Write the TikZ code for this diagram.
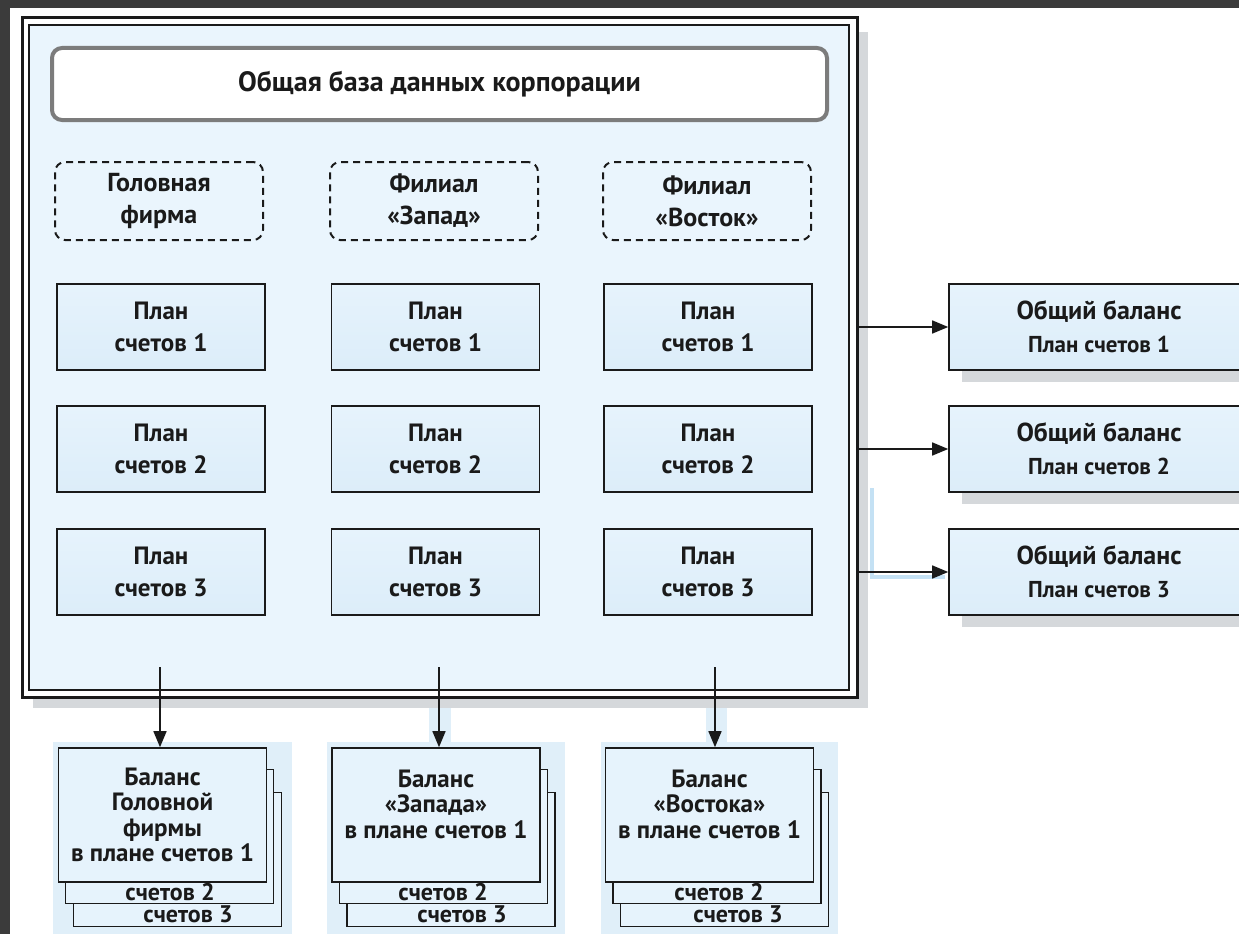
\documentclass[tikz,border=0pt]{standalone}
\usepackage{fontspec}
\setmainfont{PT Sans}
\usetikzlibrary{arrows.meta}
\definecolor{band}{HTML}{3B3B3B}
\definecolor{framefill}{HTML}{EAF5FD}
\definecolor{boxfill}{HTML}{DCEDF9}
\definecolor{boxtop}{HTML}{E6F3FC}
\definecolor{shadowgray}{HTML}{D5D8DB}
\definecolor{paleblue}{HTML}{E0EFF9}
\definecolor{lineblue}{HTML}{C4E1F4}
\definecolor{titlegray}{HTML}{7C7C7C}
\definecolor{ink}{HTML}{1A1A1A}
\begin{document}
\begin{tikzpicture}[x=1pt,y=-1pt,
  every node/.style={text=ink},
  planbox/.style={draw=ink, line width=1.6pt, top color=boxtop, bottom color=boxfill,
    minimum width=208pt, minimum height=86pt, inner sep=0pt, align=center,
    font=\bfseries\fontsize{25}{32}\selectfont},
  firmbox/.style={draw=ink, line width=2pt, dash pattern=on 7pt off 5pt, rounded corners=10pt,
    minimum width=208pt, minimum height=78pt, inner sep=0pt, align=center,
    font=\bfseries\fontsize{26}{32}\selectfont},
  sumbox/.style={draw=ink, line width=1.6pt, top color=boxtop, bottom color=boxfill,
    minimum width=300pt, minimum height=86pt, inner sep=0pt},
  sumtext/.style={align=center, font=\bfseries\fontsize{26}{33}\selectfont},
  sheet/.style={draw=ink, line width=1.6pt, fill=boxtop, minimum width=208pt,
    minimum height=134pt, inner sep=0pt},
  sheettext/.style={align=center, font=\bfseries\fontsize{25}{25.5}\selectfont},
  layertext/.style={anchor=base, font=\bfseries\fontsize{24}{25}\selectfont},
  shadowbox/.style={fill=shadowgray, draw=none, inner sep=0pt},
  arr/.style={draw=ink, line width=1.5pt, -{Triangle[length=16pt,width=13pt]}}
]
\useasboundingbox (0,0) rectangle (1239,934);
\clip (0,0) rectangle (1239,934);
% background
\fill[white] (0,0) rectangle (1239,934);
\fill[band] (0,0) rectangle (1239,8);
\fill[band] (0,0) rectangle (10,934);

% frame shadow and frame
\fill[shadowgray] (33,32) rectangle (868,708);
\node[draw=ink, line width=3pt, fill=white, minimum width=835pt, minimum height=679pt,
  inner sep=0pt] (frame) at (439.5,357.5) {};
\node[draw=ink, line width=2.5pt, fill=framefill, minimum width=820pt, minimum height=665pt,
  inner sep=0pt] (inner) at (439,357.5) {};

% title
\node[draw=titlegray, line width=4pt, fill=white, rounded corners=10pt,
  minimum width=775pt, minimum height=72pt, inner sep=0pt,
  font=\bfseries\fontsize{28}{30}\selectfont] (db) at (439.5,84) {Общая база данных корпорации};

% firms
\node[firmbox] (f1) at (159,201) {Головная\\фирма};
\node[firmbox] (f2) at (434,201) {Филиал\\«Запад»};
\node[firmbox] (f3) at (707,201) {Филиал\\«Восток»};

% plans
\foreach \c/\x in {1/161,2/435.5,3/708}{
  \node[planbox] (p\c1) at (\x,327) {План\\счетов 1};
  \node[planbox] (p\c2) at (\x,449) {План\\счетов 2};
  \node[planbox] (p\c3) at (\x,572) {План\\счетов 3};
}

% pale blue artefact line
\draw[lineblue, line width=4pt] (872,488) -- (872,577) -- (945,577);

% summary boxes
\foreach \r/\y in {1/327,2/449,3/572}{
  \node[shadowbox, minimum width=300pt, minimum height=86pt] at (1112,\y+12) {};
  \node[sumbox] (s\r) at (1099,\y) {};
  \node[sumtext] at (1099,\y) {Общий баланс\\{\fontsize{23}{33}\selectfont План счетов \r}};
  \draw[arr] (frame.east |- s\r.west) -- (s\r.west);
}

% bottom stacks: pale blue backing
\fill[paleblue] (53,742) rectangle (292,934);
\fill[paleblue] (327,742) rectangle (565,934);
\fill[paleblue] (601,742) rectangle (838,934);
\fill[paleblue] (429,708) rectangle (451,742);
\fill[paleblue] (706,708) rectangle (727,742);

% stack 1
\node[sheet] (c1) at (177.5,859.5) {};
\node[sheet] (b1) at (169.5,836.5) {};
\node[sheet] (a1) at (162.5,815) {};
\node[sheettext] at (a1) {Баланс\\Головной\\фирмы\\в плане счетов 1};
\node[layertext] at (170,900) {счетов 2};
\node[layertext] at (188,922) {счетов 3};
% stack 2
\node[sheet] (c2) at (451,859.5) {};
\node[sheet] (b2) at (443.5,836.5) {};
\node[sheet] (a2) at (436,815) {};
\node[sheettext, yshift=11pt] at (a2) {Баланс\\«Запада»\\в плане счетов 1};
\node[layertext] at (443,900) {счетов 2};
\node[layertext] at (462,922) {счетов 3};
% stack 3
\node[sheet] (c3) at (724.5,859.5) {};
\node[sheet] (b3) at (717,836.5) {};
\node[sheet] (a3) at (709.5,815) {};
\node[sheettext, yshift=11pt] at (a3) {Баланс\\«Востока»\\в плане счетов 1};
\node[layertext] at (719,900) {счетов 2};
\node[layertext] at (738,922) {счетов 3};

% down arrows
\coordinate (d1) at (160,667);
\coordinate (d2) at (439,667);
\coordinate (d3) at (715,667);
\draw[arr] (d1) -- (d1 |- a1.north);
\draw[arr] (d2) -- (d2 |- a2.north);
\draw[arr] (d3) -- (d3 |- a3.north);
\end{tikzpicture}
\end{document}
